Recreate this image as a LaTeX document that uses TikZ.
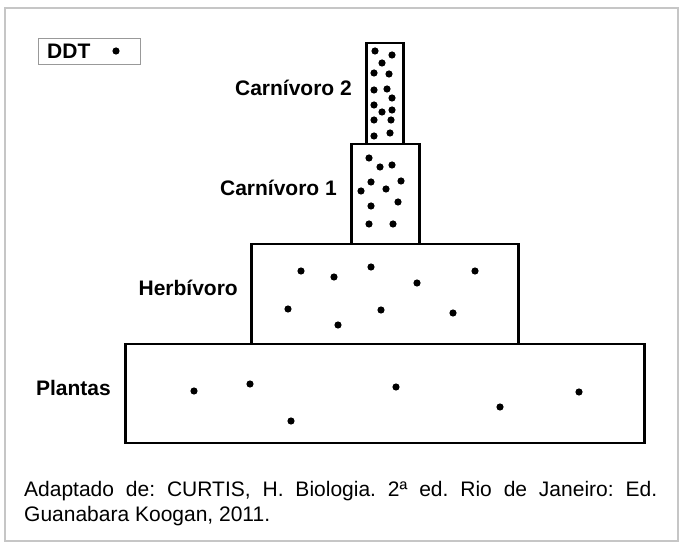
\documentclass[tikz,border=0pt]{standalone}
\usepackage{fontspec}
\setmainfont{Liberation Sans}
\usetikzlibrary{positioning}

\tikzset{
  nivel/.style={draw, line width=2.5pt, rectangle, inner sep=0pt, anchor=north west},
  rotulo/.style={font=\fontsize{21}{24}\selectfont\bfseries, inner sep=0pt, anchor=east, yshift=6pt},
}

\begin{document}
\begin{tikzpicture}[x=1pt, y=-1pt]

        \useasboundingbox (0, 0) rectangle (681, 545);
        \draw[gray!45, line width=2pt] (5, 8) rectangle (678, 541);

        % legenda
        \node[draw=gray!80, line width=1.3pt, anchor=north west, minimum width=102pt, minimum height=26pt] (legenda) at (38, 38) {};
        \node[font=\fontsize{21}{24}\selectfont\bfseries, inner sep=0pt, anchor=west] (ddt) at (47, 51) {DDT};
        \fill (116, 51) circle (3.6);

        % piramide
        \node[nivel, minimum width=519pt, minimum height=99pt] (plantas) at (124, 343) {};
        \node[nivel, minimum width=267pt, minimum height=100pt] (herb) at (250, 243) {};
        \node[nivel, minimum width=68pt, minimum height=100pt] (carn1) at (350, 143) {};
        \node[nivel, minimum width=37pt, minimum height=101pt] (carn2) at (365, 42) {};

        \node[rotulo, left=13pt of carn2] (lcarn2) {Carnívoro 2};
        \node[rotulo, left=13pt of carn1] (lcarn1) {Carnívoro 1};
        \node[rotulo, left=12pt of herb] (lherb) {Herbívoro};
        \node[rotulo, left=13pt of plantas] (lplantas) {Plantas};

        % DDT
        \foreach \p in {(194,391), (250,384), (291,421), (396,387), (500,407), (579,392)}
          \fill \p circle (3.6);
        \foreach \p in {(301,271), (334,277), (371,267), (417,283), (475,271),
                        (288,309), (381,310), (338,325), (453,313)}
          \fill \p circle (3.6);
        \foreach \p in {(369,158), (380,167), (392,165), (371,182), (401,181), (361,191),
                        (386,189), (398,202), (371,206), (369,224), (393,224)}
          \fill \p circle (3.6);
        \foreach \p in {(375,51), (392,55), (382,63), (374,73), (389,74), (374,90), (387,89),
                        (392,98), (374,105), (382,112), (392,110), (374,120), (391,120),
                        (374,136), (390,133)}
          \fill \p circle (3.6);

        \node[anchor=north west, text width=633pt, align=justify, inner sep=0pt,
              font=\fontsize{21}{25}\selectfont\frenchspacing] (fonte) at (24, 481)
          {Adaptado de: CURTIS, H. Biologia. 2ª ed. Rio de Janeiro: Ed.\linebreak Guanabara Koogan, 2011.};

      \end{tikzpicture}
\end{document}
